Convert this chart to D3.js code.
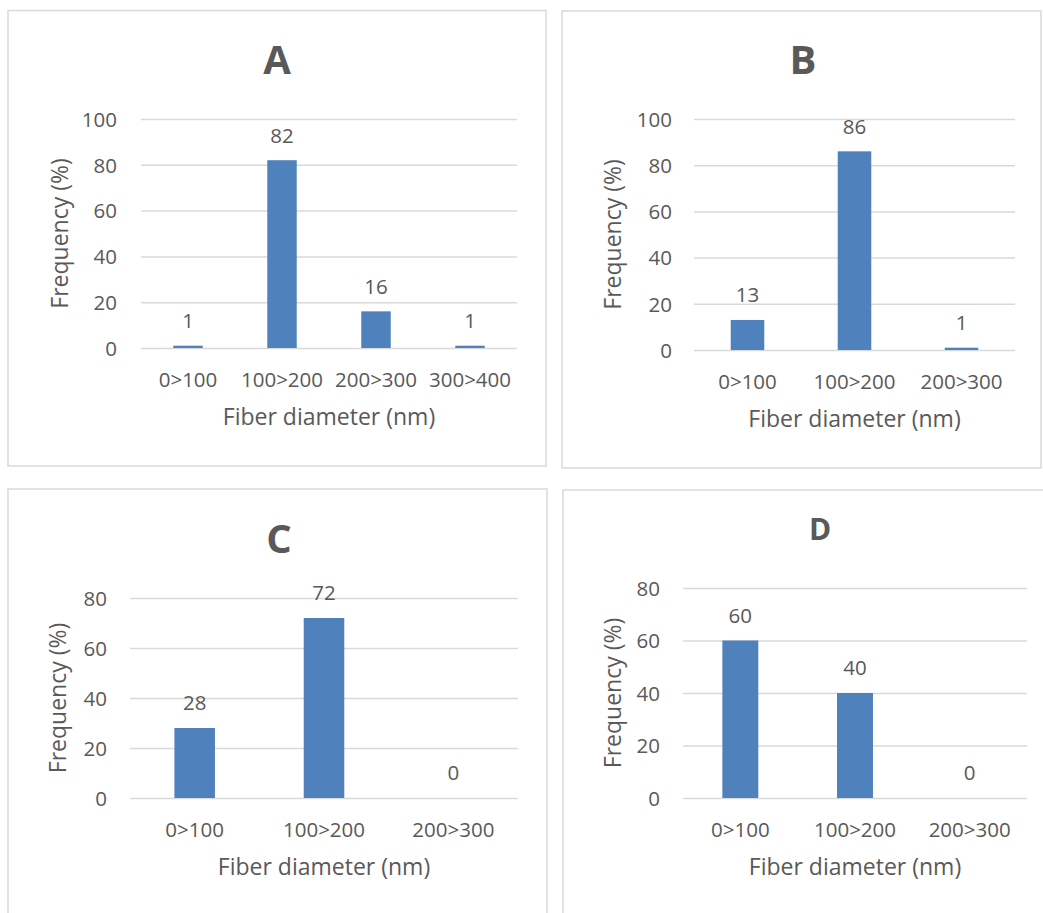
<!DOCTYPE html>
<html>
<head>
<meta charset="utf-8">
<script src="https://cdn.jsdelivr.net/npm/d3@7"></script>
<style>
  html, body { margin: 0; padding: 0; background: #ffffff; }
  svg { display: block; }
  text { font-family: "Open Sans", "Noto Sans", sans-serif; fill: #595959; }
</style>
</head>
<body>
<svg id="chart" width="1043" height="913"></svg>
<script>
// ---- data ----
const panelTitles = ["A", "B", "C", "D"];
const categoriesA = ["0>100", "100>200", "200>300", "300>400"];
const categoriesB = ["0>100", "100>200", "200>300"];
const categoriesC = ["0>100", "100>200", "200>300"];
const categoriesD = ["0>100", "100>200", "200>300"];
const valuesA = [1, 82, 16, 1];
const valuesB = [13, 86, 1];
const valuesC = [28, 72, 0];
const valuesD = [60, 40, 0];
const yTicksA = [0, 20, 40, 60, 80, 100];
const yTicksB = [0, 20, 40, 60, 80, 100];
const yTicksC = [0, 20, 40, 60, 80];
const yTicksD = [0, 20, 40, 60, 80];
const xAxisTitle = "Fiber diameter (nm)";
const yAxisTitle = "Frequency (%)";

// ---- layout (positions / styles) ----
const layouts = [
  { frame: [8, 10.5, 538, 455.5], plot: [141, 517, 119, 348], title: [277, 60, 40], yLabRight: 117, yTitleX: 60 },
  { frame: [562, 11, 479, 457], plot: [694, 1015, 119, 350], title: [803, 60, 40], yLabRight: 672, yTitleX: 613 },
  { frame: [8, 489, 539, 440], plot: [130, 518, 598, 798], title: [279, 538.5, 40], yLabRight: 107, yTitleX: 58 },
  { frame: [563, 490, 490, 440], plot: [683, 1027, 588, 798], title: [820, 529.5, 30], yLabRight: 660, yTitleX: 613 }
];
const panelData = [
  { cats: categoriesA, vals: valuesA, ticks: yTicksA },
  { cats: categoriesB, vals: valuesB, ticks: yTicksB },
  { cats: categoriesC, vals: valuesC, ticks: yTicksC },
  { cats: categoriesD, vals: valuesD, ticks: yTicksD }
];

const barColor = "#4F81BD";
const gridColor = "#D9D9D9";
const frameColor = "#D9D9D9";
const tickFont = 20.5;
const titleFont = 23;
const barRatio = 0.3135;

const svg = d3.select("#chart");

panelData.forEach((pd, i) => {
  const L = layouts[i];
  const g = svg.append("g");

  // frame
  g.append("rect")
    .attr("x", L.frame[0]).attr("y", L.frame[1])
    .attr("width", L.frame[2]).attr("height", L.frame[3])
    .attr("fill", "#ffffff")
    .attr("stroke", frameColor).attr("stroke-width", 1.5);

  const [x0, x1, y0, y1] = L.plot;
  const x = d3.scaleBand().domain(pd.cats).range([x0, x1]).padding(0);
  const y = d3.scaleLinear().domain([0, d3.max(pd.ticks)]).range([y1, y0]);

  // y axis with gridlines
  const yAxis = d3.axisLeft(y)
    .tickValues(pd.ticks)
    .tickFormat(d3.format("d"))
    .tickSizeInner(-(x1 - x0))
    .tickSizeOuter(0)
    .tickPadding(x0 - L.yLabRight);
  const yg = g.append("g").attr("transform", `translate(${x0},0)`).call(yAxis);
  yg.select(".domain").remove();
  yg.selectAll(".tick line").attr("stroke", gridColor).attr("stroke-width", 1.5);
  yg.selectAll(".tick text")
    .attr("fill", "#595959")
    .style("font-family", '"Open Sans", "Noto Sans", sans-serif')
    .style("font-size", tickFont + "px")
    .attr("dy", "0.36em");

  // bars
  const bw = x.bandwidth() * barRatio;
  g.selectAll("rect.bar")
    .data(pd.cats.map((c, k) => ({ c, v: pd.vals[k] })))
    .join("rect")
    .attr("class", "bar")
    .attr("x", d => x(d.c) + (x.bandwidth() - bw) / 2)
    .attr("width", bw)
    .attr("y", d => y(d.v))
    .attr("height", d => y(0) - y(d.v))
    .attr("fill", barColor);

  // data labels
  g.selectAll("text.vlab")
    .data(pd.cats.map((c, k) => ({ c, v: pd.vals[k] })))
    .join("text")
    .attr("class", "vlab")
    .attr("x", d => x(d.c) + x.bandwidth() / 2)
    .attr("y", d => y(d.v) - 25)
    .attr("dy", "0.36em")
    .attr("text-anchor", "middle")
    .style("font-size", tickFont + "px")
    .text(d => d.v);

  // x axis (category labels)
  const xAxis = d3.axisBottom(x).tickSize(0).tickPadding(0);
  const xg = g.append("g").attr("transform", `translate(0,${y1})`).call(xAxis);
  xg.select(".domain").remove();
  xg.selectAll(".tick text")
    .attr("fill", "#595959")
    .style("font-family", '"Open Sans", "Noto Sans", sans-serif')
    .style("font-size", tickFont + "px")
    .attr("y", 32)
    .attr("dy", "0.36em");

  // axis titles
  g.append("text")
    .attr("x", (x0 + x1) / 2)
    .attr("y", y1 + 69)
    .attr("dy", "0.36em")
    .attr("text-anchor", "middle")
    .style("font-size", titleFont + "px")
    .text(xAxisTitle);

  g.append("text")
    .attr("transform", `translate(${L.yTitleX},${(y0 + y1) / 2}) rotate(-90)`)
    .attr("dy", "0.36em")
    .attr("text-anchor", "middle")
    .style("font-size", titleFont + "px")
    .text(yAxisTitle);

  // panel title
  g.append("text")
    .attr("x", L.title[0])
    .attr("y", L.title[1])
    .attr("dy", "0.36em")
    .attr("text-anchor", "middle")
    .style("font-size", L.title[2] + "px")
    .style("font-weight", "bold")
    .text(panelTitles[i]);
});
</script>
</body>
</html>
